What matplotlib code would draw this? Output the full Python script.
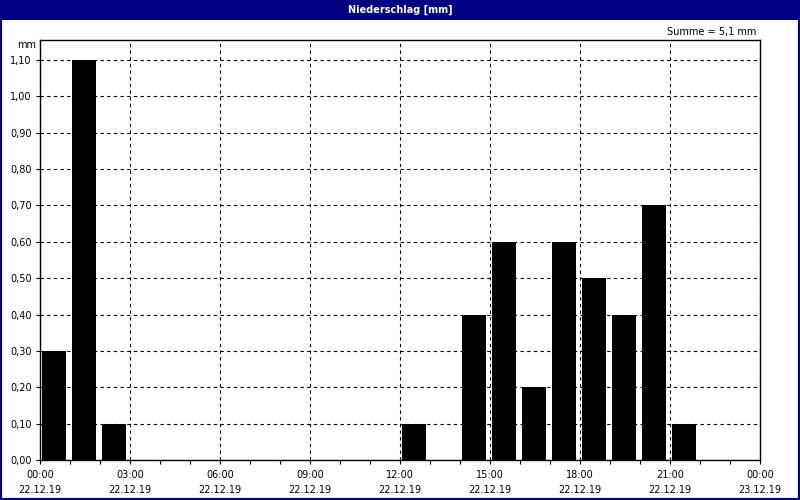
import matplotlib.pyplot as plt
from matplotlib.patches import Rectangle
import numpy as np

# Niederschlag pro Stunde am 22.12.19
hours = list(range(24))
precip_mm = [0.3, 1.1, 0.1, 0, 0, 0, 0, 0, 0, 0, 0, 0,
             0.1, 0, 0.4, 0.6, 0.2, 0.6, 0.5, 0.4, 0.7, 0.1, 0, 0]

x_ticks = [0, 3, 6, 9, 12, 15, 18, 21, 24]
x_tick_labels = ['00:00\n22.12.19', '03:00\n22.12.19', '06:00\n22.12.19',
                 '09:00\n22.12.19', '12:00\n22.12.19', '15:00\n22.12.19',
                 '18:00\n22.12.19', '21:00\n22.12.19', '00:00\n23.12.19']
y_ticks = [0.0, 0.1, 0.2, 0.3, 0.4, 0.5, 0.6, 0.7, 0.8, 0.9, 1.0, 1.1]
y_tick_labels = [f'{v:.2f}'.replace('.', ',') for v in y_ticks]

title = 'Niederschlag [mm]'
total_text = 'Summe = ' + f'{sum(precip_mm):.1f}'.replace('.', ',') + ' mm'

navy = '#000080'
fsize = 7

fig = plt.figure(figsize=(8, 5), dpi=100)

# window frame and title bar
fig.patches.append(Rectangle((0, 0), 1, 1, transform=fig.transFigure,
                             facecolor='none', edgecolor=navy, linewidth=3))
fig.patches.append(Rectangle((0, 0.96), 1, 0.04, transform=fig.transFigure,
                             facecolor=navy, edgecolor='none'))
fig.text(0.5, 0.98, title, color='white', fontsize=fsize, fontweight='bold',
         ha='center', va='center')

ax = fig.add_axes([0.05, 0.08, 0.90, 0.84])
ax.bar(np.array(hours) + 0.067, precip_mm, width=0.8, align='edge',
       color='black', zorder=3)

ax.set_xlim(0, 24)
ax.set_ylim(0, 1.155)
ax.set_xticks(x_ticks)
ax.set_xticklabels(x_tick_labels, fontsize=fsize, linespacing=1.65)
ax.set_xticks(hours, minor=True)
ax.set_yticks(y_ticks)
ax.set_yticklabels(y_tick_labels, fontsize=fsize)

ax.tick_params(axis='x', which='both', direction='out', length=3, width=0.8, pad=4)
ax.tick_params(axis='y', direction='out', length=3, width=0.8, pad=3)

ax.grid(True, color='black', linestyle=(0, (3, 3)), linewidth=0.8, zorder=1)
for s in ax.spines.values():
    s.set_linewidth(1.0)

fig.text(0.045, 0.91, 'mm', fontsize=fsize, ha='right', va='center')
fig.text(0.945, 0.937, total_text, fontsize=fsize, ha='right', va='center')

plt.savefig('out.png', dpi=100)
